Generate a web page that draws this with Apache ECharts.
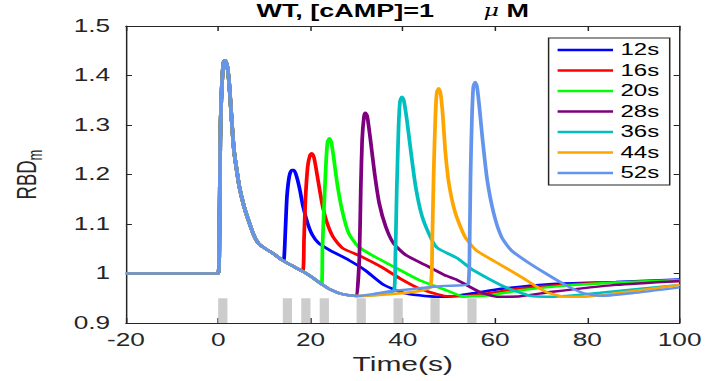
<!DOCTYPE html>
<html><head><meta charset="utf-8">
<script src="https://cdn.jsdelivr.net/npm/echarts@6/dist/echarts.min.js"></script>
<style>
html,body{margin:0;padding:0;background:#fff;overflow:hidden;width:706px;height:381px}
#chart{width:471px;height:381px;transform:scaleX(1.4989);transform-origin:0 0}
</style></head><body><div id="chart"></div>
<script>
// ---- data ----
const seriesNames = ['12s', '16s', '20s', '28s', '36s', '44s', '52s'];
const seriesColors = ['#0000ff', '#ff0000', '#00ff00', '#7e007e', '#00bfbf', '#ffa500', '#6495ed'];

// common response to the first stimulus (shared by all traces)
const baseT = [-20, 0, 0.25, 0.45, 0.66, 0.94, 1.21, 1.49, 1.97, 2.38, 2.73, 3.07, 3.42, 3.9, 4.59, 5.62, 6.65, 7.69, 8.72, 10.1, 11.8, 13.9, 15.95, 18.4, 20.4, 22.5, 24.2, 26.3, 28.3, 30.1];
const baseY = [1, 1, 1.068, 1.27, 1.35, 1.404, 1.428, 1.431, 1.418, 1.384, 1.337, 1.29, 1.249, 1.216, 1.175, 1.135, 1.105, 1.078, 1.061, 1.051, 1.041, 1.027, 1.016, 1.004, 0.992, 0.978, 0.968, 0.96, 0.956, 0.9545];

const t12 = [14.2, 14.6, 14.9, 15.4, 15.95, 16.4, 17.0, 17.7, 18.4, 19.4, 20.4, 21.8, 24.2, 28.3, 31.8, 35.9, 40.1, 43.5, 47.6, 51, 55.2, 62.1, 72.4, 86.2, 100];
const y12 = [1.026, 1.095, 1.155, 1.196, 1.209, 1.209, 1.196, 1.169, 1.135, 1.101, 1.078, 1.061, 1.047, 1.027, 1.007, 0.977, 0.961, 0.956, 0.953, 0.954, 0.96, 0.97, 0.979, 0.983, 0.988];

const t16 = [18.3, 18.6, 18.9, 19.4, 19.9, 20.3, 20.8, 21.5, 22.5, 23.5, 24.9, 27.0, 31.1, 35.2, 39.4, 43.5, 47.6, 50, 53, 58.7, 65.5, 75.8, 86.2, 100];
const y16 = [1.004, 1.068, 1.148, 1.216, 1.239, 1.243, 1.233, 1.196, 1.142, 1.105, 1.074, 1.051, 1.034, 1.014, 0.99, 0.97, 0.958, 0.954, 0.954, 0.96, 0.97, 0.978, 0.982, 0.985];

const t20 = [22.4, 22.6, 23.0, 23.4, 23.7, 24.1, 24.5, 25.0, 25.9, 27.0, 28.3, 30.4, 33.9, 38.0, 43.5, 49.0, 53.2, 58.7, 65.5, 75.8, 86.2, 100];
const y20 = [0.978, 1.054, 1.148, 1.229, 1.266, 1.273, 1.266, 1.236, 1.175, 1.122, 1.081, 1.054, 1.034, 1.014, 0.987, 0.968, 0.954, 0.956, 0.966, 0.976, 0.982, 0.987];

const t28 = [30.3, 30.6, 30.9, 31.2, 31.6, 31.9, 32.3, 33.0, 33.9, 34.9, 36.3, 38.0, 40.7, 44.9, 49.0, 51.8, 56.6, 60.7, 65.5, 72.4, 86.2, 100];
const y28 = [0.955, 1.034, 1.169, 1.27, 1.317, 1.325, 1.318, 1.27, 1.202, 1.142, 1.095, 1.061, 1.037, 1.017, 0.997, 0.987, 0.963, 0.953, 0.954, 0.963, 0.977, 0.985];

const t36 = [38.1, 38.4, 38.7, 39.1, 39.4, 39.8, 40.2, 40.9, 41.8, 42.8, 44.2, 46.3, 47.6, 51.8, 55.2, 62.1, 67.6, 72.4, 82.8, 100];
const y36 = [0.965, 1.034, 1.169, 1.297, 1.347, 1.357, 1.351, 1.31, 1.243, 1.175, 1.115, 1.068, 1.051, 1.031, 1.007, 0.973, 0.955, 0.953, 0.961, 0.977];

const t44 = [46.0, 46.4, 46.7, 47.1, 47.4, 47.8, 48.2, 48.7, 49.2, 50.0, 51.4, 53.5, 55.9, 60.0, 65.5, 71.0, 75.2, 79.4, 86.2, 93.1, 100];
const y44 = [0.973, 1.068, 1.202, 1.324, 1.367, 1.374, 1.364, 1.317, 1.249, 1.182, 1.122, 1.074, 1.047, 1.024, 0.994, 0.963, 0.953, 0.953, 0.96, 0.968, 0.977];

const t52 = [34, 38, 43.5, 49, 54.2, 54.5, 54.7, 55.0, 55.3, 55.7, 56.1, 56.6, 57.3, 58.3, 59.7, 61.4, 63.5, 66.9, 71.0, 75.2, 79.3, 83.5, 89.6, 100];
const y52 = [0.959, 0.965, 0.97, 0.975, 0.979, 1.068, 1.202, 1.317, 1.377, 1.387, 1.377, 1.337, 1.27, 1.189, 1.122, 1.074, 1.047, 1.024, 1.0, 0.977, 0.96, 0.955, 0.96, 0.972];

const branchT = [t12, t16, t20, t28, t36, t44, t52];
const branchY = [y12, y16, y20, y28, y36, y44, y52];

// stimulus pulses (grey bars)
const stimStart = [0, 14, 18, 22, 30, 38, 46, 54];
const stimEnd = [2, 16, 20, 24, 32, 40, 48, 56];
const stimLevel = [0.95, 0.95, 0.95, 0.95, 0.95, 0.95, 0.95, 0.95];

const xMin = -20, xMax = 100, xStep = 20;
const yMin = 0.9, yMax = 1.5, yStep = 0.1;

// ---- build ----
function buildData(i) {
  const bt = branchT[i], by = branchY[i];
  const out = [];
  for (let k = 0; k < baseT.length; k++) if (baseT[k] < bt[0]) out.push([baseT[k], baseY[k]]);
  for (let k = 0; k < bt.length; k++) out.push([bt[k], by[k]]);
  return out;
}

const axisColor = '#262626';
const font = 'Liberation Sans, Arial, Helvetica, sans-serif';

const lineSeries = seriesNames.map((n, i) => ({
  name: n, type: 'line', data: buildData(i), showSymbol: false, symbol: 'none',
  smooth: 0.2,
  lineStyle: { color: seriesColors[i], width: 2.5 }, itemStyle: { color: seriesColors[i] },
  z: 3 + i, animation: false
}));

const barSeries = {
  type: 'custom', name: 'stim', z: 2, animation: false, silent: true,
  data: stimStart.map((s, i) => [s, stimEnd[i], stimLevel[i]]),
  renderItem: function (params, api) {
    const p0 = api.coord([api.value(0), api.value(2)]);
    const p1 = api.coord([api.value(1), yMin]);
    return { type: 'rect', shape: { x: p0[0], y: p0[1], width: p1[0] - p0[0], height: p1[1] - p0[1] }, style: { fill: '#cccccc' } };
  }
};

const chart = echarts.init(document.getElementById('chart'), null, { renderer: 'svg' });
chart.setOption({
  animation: false,
  backgroundColor: '#ffffff',
  title: {
    text: '{b|WT, [cAMP]=1}{gap| }{mu|μ}{b| M}',
    left: 262, top: 2, textAlign: 'center', padding: 0,
    textStyle: {
      rich: {
        b: { fontFamily: font, fontWeight: 'bold', fontSize: 18, color: '#000' },
        gap: { width: 33, fontSize: 18 },
        mu: { fontFamily: 'DejaVu Serif, serif', fontStyle: 'italic', fontWeight: 'normal', fontSize: 16, color: '#000' }
      }
    }
  },
  legend: {
    orient: 'vertical', left: 366, top: 38, data: seriesNames,
    icon: 'rect', itemWidth: 37, itemHeight: 2.5, itemGap: 4.5,
    padding: [4, 7, 4, 6], borderColor: axisColor, borderWidth: 1, backgroundColor: '#fff',
    textStyle: { fontFamily: font, fontSize: 16, color: '#000', lineHeight: 16 }
  },
  grid: { left: 70.67, right: 12.67, top: 26, bottom: 58, containLabel: false },
  xAxis: [{
    type: 'value', min: xMin, max: xMax, interval: xStep, position: 'bottom',
    name: 'Time(s)', nameLocation: 'middle', nameGap: 30,
    nameTextStyle: { fontFamily: font, fontSize: 20, color: axisColor },
    axisLine: { show: true, onZero: false, lineStyle: { color: axisColor, width: 1 } },
    axisTick: { show: true, inside: true, length: 5, lineStyle: { color: axisColor } },
    axisLabel: { fontFamily: font, fontSize: 17.5, color: axisColor, margin: 8 },
    splitLine: { show: false }
  }, {
    type: 'value', min: xMin, max: xMax, interval: xStep, position: 'top',
    axisLine: { show: true, onZero: false, lineStyle: { color: axisColor, width: 1 } },
    axisTick: { show: true, inside: true, length: 5, lineStyle: { color: axisColor } },
    axisLabel: { show: false }, splitLine: { show: false }
  }],
  yAxis: [{
    type: 'value', min: yMin, max: yMax, interval: yStep, position: 'left',
    name: 'RBD{sub|m}', nameLocation: 'middle', nameGap: 54, nameRotate: 90,
    nameTextStyle: { fontFamily: font, fontSize: 18.5, color: axisColor,
      rich: { sub: { fontFamily: font, fontSize: 13, color: axisColor, padding: [12, 0, 0, 0] } } },
    axisLine: { show: true, onZero: false, lineStyle: { color: axisColor, width: 1 } },
    axisTick: { show: true, inside: true, length: 4, lineStyle: { color: axisColor } },
    axisLabel: { fontFamily: font, fontSize: 17.5, color: axisColor, margin: 10.5 },
    splitLine: { show: false }
  }, {
    type: 'value', min: yMin, max: yMax, interval: yStep, position: 'right',
    axisLine: { show: true, onZero: false, lineStyle: { color: axisColor, width: 1 } },
    axisTick: { show: true, inside: true, length: 4, lineStyle: { color: axisColor } },
    axisLabel: { show: false }, splitLine: { show: false }
  }],
  series: [barSeries].concat(lineSeries)
});
</script></body></html>
